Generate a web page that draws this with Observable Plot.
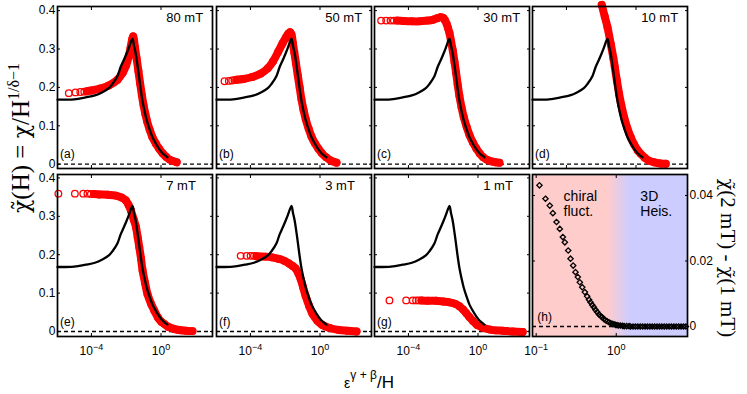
<!DOCTYPE html>
<html><head><meta charset="utf-8">
<script src="https://cdn.jsdelivr.net/npm/d3@7"></script>
<script src="https://cdn.jsdelivr.net/npm/@observablehq/plot@0.6"></script>
<style>
body{margin:0;background:#fff;}
#fig{position:relative;width:747px;height:394px;overflow:hidden;background:#fff;font-family:"Liberation Sans",Arial,sans-serif;}
#fig svg{position:absolute;}
</style></head><body><div id="fig"></div>
<script>
// ---------- data (x stored as log10 of eps^(gamma+beta)/H) ----------
const fieldLabels = ["80 mT", "50 mT", "30 mT", "10 mT", "7 mT", "3 mT", "1 mT"];
const panelLetters = ["(a)", "(b)", "(c)", "(d)", "(e)", "(f)", "(g)", "(h)"];
const yTicks = [0, 0.1, 0.2, 0.3, 0.4];
const xTicks = [1e-4, 1];
const hXTicks = [0.1, 1];
const hYTicks = [0, 0.02, 0.04];

// universal scaling curve (black)
const scalingLog10X = [-5.95,-5.0,-4.33,-3.8,-3.37,-3.0,-2.79,-2.5,-2.32,-2.15,-1.99,-1.85,-1.75,-1.64,-1.55,-1.45,-1.35,-1.26,-1.17,-1.07,-0.95,-0.82,-0.65,-0.49,-0.3,-0.11,0.1,0.37];
const scalingY     = [0.168,0.169,0.174,0.179,0.1875,0.198,0.209,0.230,0.253,0.270,0.287,0.303,0.316,0.327,0.308,0.287,0.257,0.227,0.196,0.166,0.139,0.114,0.090,0.070,0.054,0.040,0.028,0.018];

// measured data (red circles): isolated low-x circles + dense band
const red80SparseLog10X = [-5.30,-4.92,-4.64,-4.41];
const red80SparseY      = [0.185,0.187,0.188,0.189];
const red80Log10X = [-4.25,-4.0,-3.5,-3.0,-2.5,-2.2,-2.0,-1.85,-1.75,-1.66,-1.6,-1.5,-1.4,-1.3,-1.2,-1.1,-1.0,-0.9,-0.8,-0.65,-0.5,-0.3,-0.1,0.1,0.3,0.5,0.7,0.9];
const red80Y      = [0.190,0.192,0.197,0.205,0.220,0.238,0.258,0.282,0.303,0.325,0.333,0.305,0.275,0.243,0.210,0.180,0.153,0.131,0.112,0.090,0.071,0.054,0.040,0.028,0.019,0.012,0.008,0.005];

const red50SparseLog10X = [-5.49,-5.24,-5.05,-4.92];
const red50SparseY      = [0.216,0.217,0.218,0.219];
const red50Log10X = [-4.8,-4.4,-3.9,-3.4,-3.0,-2.7,-2.4,-2.15,-1.95,-1.82,-1.72,-1.64,-1.56,-1.48,-1.38,-1.28,-1.17,-1.07,-0.95,-0.82,-0.65,-0.49,-0.3,-0.1,0.1,0.35,0.6,0.95];
const red50Y      = [0.220,0.222,0.227,0.236,0.250,0.268,0.293,0.315,0.331,0.340,0.344,0.338,0.315,0.292,0.262,0.232,0.200,0.170,0.142,0.117,0.092,0.072,0.055,0.041,0.029,0.018,0.010,0.004];

const red30SparseLog10X = [-5.57,-5.28,-5.03,-4.84];
const red30SparseY      = [0.374,0.374,0.374,0.374];
const red30Log10X = [-4.65,-4.3,-3.8,-3.37,-2.9,-2.6,-2.35,-2.15,-2.0,-1.9,-1.8,-1.72,-1.64,-1.55,-1.45,-1.35,-1.26,-1.17,-1.07,-0.95,-0.82,-0.65,-0.49,-0.3,-0.1,0.1,0.3,0.5,0.8,1.0,1.23];
const red30Y      = [0.374,0.373,0.372,0.372,0.374,0.376,0.380,0.383,0.381,0.375,0.365,0.354,0.342,0.320,0.296,0.266,0.238,0.208,0.178,0.149,0.123,0.097,0.076,0.057,0.041,0.028,0.018,0.012,0.007,0.005,0.004];

const red10SparseLog10X = [];
const red10SparseY      = [];
const red10Log10X = [-1.97,-1.8,-1.64,-1.45,-1.3,-1.22,-1.1,-0.97,-0.85,-0.68,-0.5,-0.3,-0.1,0.1,0.27,0.5,0.75,1.04,1.4,1.71];
const red10Y      = [0.415,0.385,0.357,0.313,0.276,0.253,0.218,0.183,0.155,0.122,0.094,0.070,0.051,0.036,0.027,0.017,0.009,0.005,0.002,0.001];

const red7SparseLog10X = [-5.9,-4.95,-4.47,-4.23,-4.03];
const red7SparseY      = [0.359,0.359,0.359,0.359,0.358];
const red7Log10X = [-3.85,-3.55,-3.05,-2.6,-2.27,-2.02,-1.87,-1.73,-1.57,-1.44,-1.34,-1.25,-1.15,-1.06,-0.92,-0.78,-0.57,-0.39,-0.17,0.03,0.18,0.43,0.73,1.03,1.43,1.81];
const red7Y      = [0.358,0.357,0.356,0.354,0.349,0.341,0.330,0.315,0.292,0.272,0.245,0.220,0.190,0.159,0.127,0.098,0.072,0.055,0.036,0.025,0.020,0.012,0.007,0.004,0.002,0.001];

const red3SparseLog10X = [-4.56,-4.22,-3.99,-3.8];
const red3SparseY      = [0.197,0.197,0.197,0.197];
const red3Log10X = [-3.65,-3.13,-2.75,-2.36,-2.05,-1.78,-1.55,-1.4,-1.25,-1.11,-0.97,-0.83,-0.63,-0.44,-0.15,0.13,0.55,1.09,1.55,2.1];
const red3Y      = [0.196,0.195,0.193,0.189,0.184,0.177,0.170,0.164,0.152,0.136,0.115,0.093,0.067,0.047,0.028,0.017,0.009,0.004,0.002,0.0];

const red1SparseLog10X = [-5.09,-4.13,-3.75,-3.56,-3.41];
const red1SparseY      = [0.081,0.081,0.081,0.081,0.081];
const red1Log10X = [-3.25,-2.9,-2.41,-2.0,-1.64,-1.3,-1.07,-0.85,-0.68,-0.5,-0.3,-0.05,0.27,0.7,1.0,1.42,2.0,2.57];
const red1Y      = [0.081,0.080,0.080,0.078,0.076,0.072,0.066,0.057,0.048,0.038,0.028,0.017,0.010,0.005,0.003,0.002,0.0,-0.001];

// panel (h): chi(2 mT) - chi(1 mT)
const diffLog10X = [-0.959,-0.884,-0.830,-0.792,-0.746,-0.705,-0.667,-0.642,-0.600,-0.571,-0.538,-0.509,-0.480,-0.455,-0.425,-0.392,-0.363,-0.340,-0.321,-0.300,-0.280,-0.260,-0.238,-0.215,-0.195,-0.175,-0.155,-0.135,-0.113,-0.09,-0.07,-0.05,-0.03,-0.01,0.01,0.03,0.054,0.08,0.10,0.13,0.16,0.18,0.21,0.24,0.27,0.30,0.33,0.36,0.39,0.42,0.45,0.48,0.51,0.54,0.57,0.60,0.63,0.66,0.69,0.72,0.75,0.78,0.81,0.84,0.87];
const diffY      = [0.0431,0.0390,0.0369,0.0346,0.0319,0.0298,0.0273,0.0257,0.0232,0.0207,0.0186,0.0166,0.0151,0.0135,0.0120,0.0105,0.0092,0.0082,0.0074,0.0066,0.0059,0.0051,0.0044,0.0037,0.0032,0.0028,0.0023,0.0019,0.0016,0.0013,0.0010,0.0008,0.0007,0.0005,0.0004,0.0003,0.0003,0.0002,0.0001,0.0001,0.0001,0,0,0,0,0,0,0,0,0,0,0,0,0,0,0,0,0,0,0,0,0,0,0,0];
const chiralRegimeEnd = 0.78;   // x where pink region fades
const heisRegimeStart = 1.5;    // x where blue region is reached

// ---------- layout ----------
const colLeft = [57, 216, 374, 532];
const rowTop = [6, 174];
const FW = 155, FH = 162;
const ML = 45, MR = 45, MT = 8, MB = 34;
const yDomains = [[-0.0112, 0.4107], [-0.013, 0.4089]];
const xDomain = [10 ** -5.95, 10 ** 2.96];
const powFmt = d => "10|" + Math.round(Math.log10(d));
const none = () => "";
const fig = document.getElementById("fig");
const baseStyle = {background: "transparent", overflow: "visible", fontFamily: "Liberation Sans, Arial, sans-serif", fontSize: "12px", color: "black"};
const ns = "http://www.w3.org/2000/svg";

// turn "10|-4" tick labels into 10 with a raised exponent
function powerLabels(svg) {
  svg.querySelectorAll("text").forEach(t => {
    const s = t.textContent;
    if (!s.includes("|")) return;
    const [base, exp] = s.split("|");
    t.textContent = "";
    const b = document.createElementNS(ns, "tspan");
    b.textContent = base;
    const e = document.createElementNS(ns, "tspan");
    e.setAttribute("dy", "-5"); e.setAttribute("font-size", "9");
    e.textContent = exp.replace("-", "\u2212");
    t.appendChild(b); t.appendChild(e);
  });
}

const redSparseX = [red80SparseLog10X, red50SparseLog10X, red30SparseLog10X, red10SparseLog10X, red7SparseLog10X, red3SparseLog10X, red1SparseLog10X];
const redSparseY = [red80SparseY, red50SparseY, red30SparseY, red10SparseY, red7SparseY, red3SparseY, red1SparseY];
const redBandX = [red80Log10X, red50Log10X, red30Log10X, red10Log10X, red7Log10X, red3Log10X, red1Log10X];
const redBandY = [red80Y, red50Y, red30Y, red10Y, red7Y, red3Y, red1Y];

const toPts = (lx, ys) => lx.map((e, j) => ({x: 10 ** e, y: ys[j]}));
const scaling = toPts(scalingLog10X, scalingY);

function place(svg, col, row) {
  svg.style.left = (colLeft[col] - ML) + "px";
  svg.style.top = (rowTop[row] - MT) + "px";
  powerLabels(svg);
  fig.appendChild(svg);
}

for (let i = 0; i < 7; i++) {
  const row = i < 4 ? 0 : 1, col = i % 4;
  const sparse = toPts(redSparseX[i], redSparseY[i]);
  const band = toPts(redBandX[i], redBandY[i]);
  const svg = Plot.plot({
    width: FW + ML + MR, height: FH + MT + MB,
    marginLeft: ML, marginRight: MR, marginTop: MT, marginBottom: MB,
    x: {type: "log", domain: xDomain, label: null},
    y: {domain: yDomains[row], label: null},
    style: baseStyle,
    marks: [
      Plot.ruleY([0], {stroke: "black", strokeWidth: 1.3, strokeDasharray: "4,3"}),
      Plot.line(band, {x: "x", y: "y", stroke: "red", strokeWidth: 8, curve: "catmull-rom"}),
      Plot.dot(sparse.concat(band), {x: "x", y: "y", r: 3.3, stroke: "red", strokeWidth: 1.3, fill: "none"}),
      Plot.line(scaling, {x: "x", y: "y", stroke: "black", strokeWidth: 2.3, curve: "catmull-rom"}),
      Plot.text([fieldLabels[i]], {x: 2, y: 0.38, textAnchor: "start", fontSize: 13}),
      Plot.text([panelLetters[i]], {x: 10 ** -5.8, y: 0.025, textAnchor: "start", fontSize: 12}),
      Plot.axisY(yTicks, {anchor: "left", tickSize: -3, tickPadding: 5, tickFormat: col === 0 ? d => String(d) : none, label: null, fontSize: 12}),
      Plot.axisY(yTicks, {anchor: "right", tickSize: -3, tickFormat: none, label: null}),
      Plot.axisX(xTicks, {anchor: "top", tickSize: -3, tickFormat: none, label: null}),
      Plot.axisX(xTicks, {anchor: "bottom", tickSize: -3, tickPadding: 13, tickFormat: row === 1 ? powFmt : none, label: null, fontSize: 12}),
      Plot.frame({stroke: "black", strokeWidth: 1.7})
    ]
  });
  place(svg, col, row);
}

// panel (h)
{
  const pts = toPts(diffLog10X, diffY);
  const hXDomain = [10 ** -1.046, 10 ** 0.89];
  const svg = Plot.plot({
    width: FW + ML + MR, height: FH + MT + MB,
    marginLeft: ML, marginRight: MR, marginTop: MT, marginBottom: MB,
    x: {type: "log", domain: hXDomain, label: null},
    y: {domain: [-0.00305, 0.0464], label: null},
    style: baseStyle,
    marks: [
      Plot.frame({fill: "url(#regimeGradient)", stroke: "none"}),
      Plot.ruleY([0], {stroke: "black", strokeWidth: 1.3, strokeDasharray: "4,3"}),
      Plot.dot(pts, {x: "x", y: "y", symbol: "diamond2", r: 2.4, stroke: "black", strokeWidth: 1.3, fill: "none"}),
      Plot.text(["chiral\nfluct."], {x: 0.22, y: 0.0415, textAnchor: "start", lineAnchor: "top", fontSize: 14, lineHeight: 1.05}),
      Plot.text(["3D\nHeis."], {x: 2.0, y: 0.0415, textAnchor: "start", lineAnchor: "top", fontSize: 14, lineHeight: 1.05}),
      Plot.text([panelLetters[7]], {x: 0.103, y: 0.0028, textAnchor: "start", fontSize: 12}),
      Plot.axisY(hYTicks, {anchor: "left", tickSize: -3, tickFormat: none, label: null}),
      Plot.axisY(hYTicks, {anchor: "right", tickSize: -3, tickPadding: 5, tickFormat: d => String(d), label: null, fontSize: 12}),
      Plot.axisX(hXTicks, {anchor: "top", tickSize: -3, tickFormat: none, label: null}),
      Plot.axisX(hXTicks, {anchor: "bottom", tickSize: -3, tickPadding: 13, tickFormat: powFmt, label: null, fontSize: 12}),
      Plot.frame({stroke: "black", strokeWidth: 1.7})
    ]
  });
  const xs = svg.scale("x");
  const o1 = (xs.apply(chiralRegimeEnd) - ML) / FW;
  const o2 = (xs.apply(heisRegimeStart) - ML) / FW;
  const defs = document.createElementNS(ns, "defs");
  const grad = document.createElementNS(ns, "linearGradient");
  grad.setAttribute("id", "regimeGradient");
  grad.setAttribute("x1", "0"); grad.setAttribute("x2", "1");
  grad.setAttribute("y1", "0"); grad.setAttribute("y2", "0");
  [[0, "#ffcccc"], [o1, "#ffcccc"], [o2, "#ccccff"], [1, "#ccccff"]].forEach(([o, c]) => {
    const s = document.createElementNS(ns, "stop");
    s.setAttribute("offset", o); s.setAttribute("stop-color", c);
    grad.appendChild(s);
  });
  defs.appendChild(grad);
  svg.insertBefore(defs, svg.firstChild);
  place(svg, 3, 1);
}

// global axis labels
const overlay = d3.select(fig).append("svg").attr("width", 747).attr("height", 394).style("left", "0px").style("top", "0px").style("pointer-events", "none");
const yl = overlay.append("text").attr("transform", "translate(29,138) rotate(-90)").attr("text-anchor", "middle")
  .attr("font-family", "Liberation Serif, serif").attr("font-size", 25);
yl.append("tspan").attr("font-family", "DejaVu Serif, serif").attr("font-size", 22).text("\u03C7\u0303");
yl.append("tspan").text("(H) = ");
yl.append("tspan").attr("font-family", "DejaVu Serif, serif").attr("font-size", 22).text("\u03C7");
yl.append("tspan").text("/H");
yl.append("tspan").attr("dy", -10).attr("font-size", 16).text("1/\u03B4\u22121");
const rl = overlay.append("text").attr("transform", "translate(721,258) rotate(90)").attr("text-anchor", "middle")
  .attr("font-family", "Liberation Serif, serif").attr("font-size", 21);
rl.append("tspan").attr("font-family", "DejaVu Serif, serif").attr("font-size", 19).text("\u03C7\u0303");
rl.append("tspan").text("(2 mT) - ");
rl.append("tspan").attr("font-family", "DejaVu Serif, serif").attr("font-size", 19).text("\u03C7\u0303");
rl.append("tspan").text("(1 mT)");
const xl = overlay.append("text").attr("x", 369).attr("y", 388).attr("text-anchor", "middle").attr("font-family", "Liberation Sans, Arial, sans-serif");
xl.append("tspan").attr("font-size", 14).text("\u03B5");
xl.append("tspan").attr("font-size", 12).attr("dy", -9).text("\u03B3 + \u03B2");
xl.append("tspan").attr("font-size", 17).attr("dy", 9).text("/H");
</script>
</body></html>
